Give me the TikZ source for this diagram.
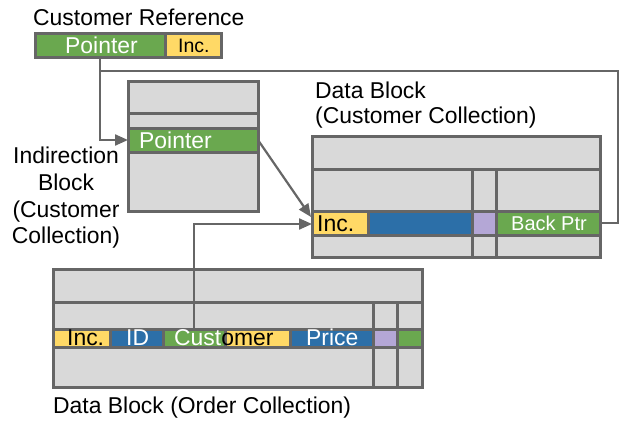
\documentclass[tikz,border=0pt]{standalone}
\usepackage{fontspec}
\setmainfont{Liberation Sans}
\usetikzlibrary{arrows.meta}
\definecolor{cgrey}{HTML}{D9D9D9}
\definecolor{cborder}{HTML}{666666}
\definecolor{cgreen}{HTML}{6AA84F}
\definecolor{cyellow}{HTML}{FFD966}
\definecolor{cblue}{HTML}{2C6FA8}
\definecolor{cpurple}{HTML}{B4A7D6}
\tikzset{
  cell/.style={draw=cborder, line width=3pt, anchor=north west, inner sep=0pt, outer sep=0pt, rectangle},
  gcell/.style={cell, fill=cgrey},
  greencell/.style={cell, fill=cgreen},
  yellowcell/.style={cell, fill=cyellow},
  bluecell/.style={cell, fill=cblue},
  purplecell/.style={cell, fill=cpurple},
  lbl/.style={anchor=base west, inner sep=0pt, font=\fontsize{22.9}{26}\selectfont},
  clbl/.style={anchor=base, inner sep=0pt, font=\fontsize{22.9}{26}\selectfont},
  wlbl/.style={lbl, text=white},
  conn/.style={draw=cborder, line width=2.2pt},
  arr/.style={conn, -{Triangle[length=13pt,width=11pt]}},
}
\newcommand{\cellbox}[6]{\node[#1, minimum width=#4pt, minimum height=#5pt] (#2) at (#3) {#6};}
\begin{document}
\begin{tikzpicture}[x=1pt,y=-1pt]
\useasboundingbox (0,0) rectangle (622,421);
% Customer Reference
\node[lbl] (crlabel) at (33,25) {Customer Reference};
\cellbox{greencell}{crp}{35,33}{130}{24}{}
\cellbox{yellowcell}{cri}{165,33}{56}{24}{}
\node[wlbl] (crptext) at (65,53) {Pointer};
\node[lbl, font=\fontsize{19.5}{22}\selectfont] (critext) at (178,52) {Inc.};
% Indirection block
\cellbox{gcell}{ib1}{128,81}{130}{32}{}
\cellbox{gcell}{ib2}{128,113}{130}{15}{}
\cellbox{greencell}{ibp}{128,128}{130}{24}{}
\cellbox{gcell}{ib4}{128,152}{130}{59}{}
\node[wlbl] (ibptext) at (139,148) {Pointer};
\node[clbl] (ind1) at (66,163) {Indirection};
\node[clbl] (ind2) at (66,190) {Block};
\node[clbl] (ind3) at (66,217) {(Customer};
\node[clbl] (ind4) at (66,243) {Collection)};
% Data block (customer)
\node[lbl] (dblabel1) at (315,98) {Data Block};
\node[lbl] (dblabel2) at (315,123) {(Customer Collection)};
\cellbox{gcell}{d1}{312,136}{288}{33}{}
\cellbox{gcell}{d2a}{312,169}{160}{42}{}
\cellbox{gcell}{d2b}{472,169}{24}{42}{}
\cellbox{gcell}{d2c}{496,169}{104}{42}{}
\cellbox{yellowcell}{dinc}{312,211}{56}{24}{}
\cellbox{bluecell}{dblue}{368,211}{104}{24}{}
\cellbox{purplecell}{dpur}{472,211}{24}{24}{}
\cellbox{greencell}{dback}{496,211}{104}{24}{}
\cellbox{gcell}{d4a}{312,235}{160}{22}{}
\cellbox{gcell}{d4b}{472,235}{24}{22}{}
\cellbox{gcell}{d4c}{496,235}{104}{22}{}
\node[lbl, font=\fontsize{23}{26}\selectfont] (dinctext) at (317,231) {Inc.};
\node[wlbl, font=\fontsize{20}{24}\selectfont] (dbacktext) at (511,230) {Back Ptr};
% Data block (order)
\cellbox{gcell}{o1}{53,269}{369}{33}{}
\cellbox{gcell}{o2a}{53,302}{320}{27}{}
\cellbox{gcell}{o2b}{373,302}{24}{27}{}
\cellbox{gcell}{o2c}{397,302}{25}{27}{}
\cellbox{yellowcell}{oinc}{53,329}{57}{18}{}
\cellbox{bluecell}{oid}{110,329}{53}{18}{}
\cellbox{greencell}{ocust}{163,329}{62}{18}{}
\cellbox{yellowcell}{oyel}{225,329}{65}{18}{}
\cellbox{bluecell}{oprice}{290,329}{83}{18}{}
\cellbox{purplecell}{opur}{373,329}{24}{18}{}
\cellbox{greencell}{ogreen}{397,329}{25}{18}{}
\cellbox{gcell}{o4a}{53,347}{320}{40}{}
\cellbox{gcell}{o4b}{373,347}{24}{40}{}
\cellbox{gcell}{o4c}{397,347}{25}{40}{}
\node[lbl] (oinctext) at (67,345) {Inc.};
\node[wlbl] (oidtext) at (126,345) {ID};
\node[lbl] (ocusttext) at (174,345) {\textcolor{white}{Cust}omer};
\node[wlbl] (opricetext) at (306,345) {Price};
\node[lbl] (olabel) at (53,413) {Data Block (Order Collection)};
% Connectors
\coordinate (crpdown) at (100,57);
\coordinate (join) at (100,71);
\draw[arr] (crpdown) |- (ibp.west);
\draw[conn] (dback.east) -- ++(18,0) |- (join);
\draw[arr] (ibp.east) -- ([xshift=-1pt,yshift=-6pt]dinc.north west);
\coordinate (ocusttop) at (194,329);
\draw[arr] (ocusttop) |- ([yshift=-13pt]dinc.north west);
\end{tikzpicture}
\end{document}
